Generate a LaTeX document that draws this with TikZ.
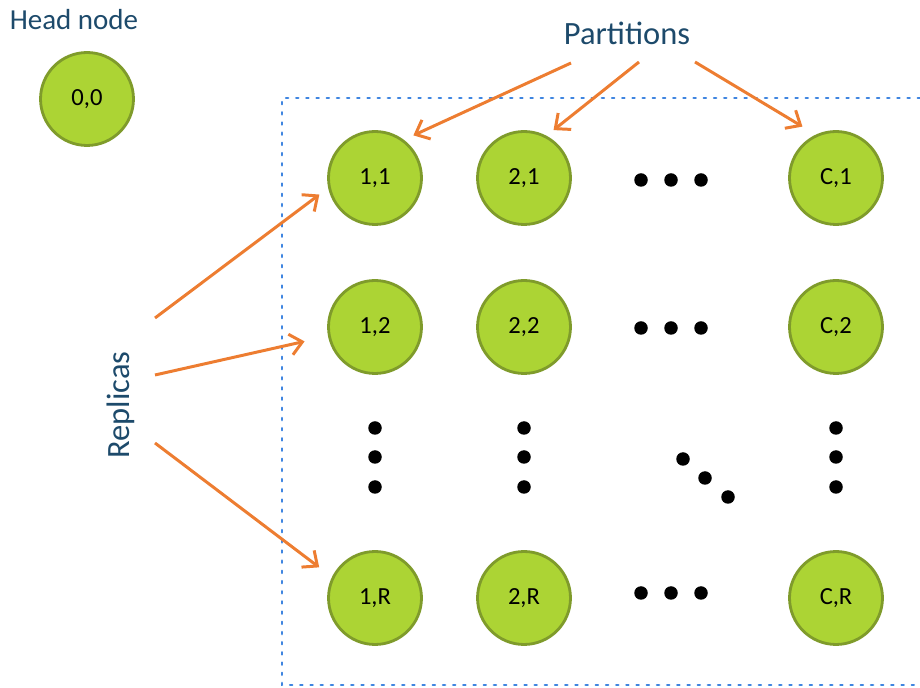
\documentclass[tikz,border=0pt]{standalone}
\usepackage{fontspec}
\setmainfont{Carlito}
\usetikzlibrary{arrows.meta}
\definecolor{cgreen}{HTML}{ACD434}
\definecolor{cedge}{HTML}{7F9B2B}
\definecolor{corange}{HTML}{ED7D31}
\definecolor{cblue}{HTML}{3F85E0}
\definecolor{cnavy}{HTML}{1D4A6B}
\tikzset{
  every picture/.style={x=0.02cm, y=-0.02cm},
  replica/.style={circle, draw=cedge, fill=cgreen, line width=1.6pt, minimum size=1.86cm, inner sep=0pt, font=\fontsize{14}{16}\selectfont},
  heading/.style={text=cnavy, inner sep=0pt},
  arrow/.style={-{Straight Barb[length=2.4mm, width=4.2mm]}, draw=corange, line width=1.7pt},
  border/.style={draw=cblue, line width=1.3pt, dash pattern=on 1.3pt off 4.5pt, line cap=round},
}

\begin{document}
\begin{tikzpicture}
  \useasboundingbox (0,0) rectangle (920,688);
  % partition area
  \draw[border] (920,98) -- (282,98) -- (282,685) -- (920,685);
  % labels
  \node[heading, font=\fontsize{16.5}{18}\selectfont] (headlbl) at (74,20) {Head node};
  \node[heading, font=\fontsize{18.5}{20}\selectfont] (partlbl) at (627,33) {Partitions};
  \node[heading, font=\fontsize{18.5}{20}\selectfont, rotate=90] (repllbl) at (121,405) {Replicas};
  % head and replicas
  \node[replica] (head) at (87,99) {0,0};
  \node[replica] (c11) at (375,178) {1,1};
  \node[replica] (c21) at (524,178) {2,1};
  \node[replica] (cC1) at (836,178) {C,1};
  \node[replica] (c12) at (375,327) {1,2};
  \node[replica] (c22) at (524,327) {2,2};
  \node[replica] (cC2) at (836,327) {C,2};
  \node[replica] (c1R) at (375,598) {1,R};
  \node[replica] (c2R) at (524,598) {2,R};
  \node[replica] (cCR) at (836,598) {C,R};
  % ellipses
  \foreach \y in {180,328,593}
    \foreach \x in {641,671,701}
      \fill (\x,\y) circle (0.135cm);
  \foreach \x in {375,524,836}
    \foreach \y in {428,457,487}
      \fill (\x,\y) circle (0.135cm);
  \fill (683,459) circle (0.135cm) (705,478) circle (0.135cm) (728,497) circle (0.135cm);
  % arrows
  \coordinate (p1) at (571,63);
  \coordinate (p2) at (639,62);
  \coordinate (p3) at (695,62);
  \coordinate (r1) at (155,318);
  \coordinate (r2) at (155,375);
  \coordinate (r3) at (155,443);
  \draw[arrow, shorten >=0.21cm] (p1) -- (c11.53);
  \draw[arrow, shorten >=0.18cm] (p2) -- (c21.62);
  \draw[arrow, shorten >=0.31cm] (p3) -- (cC1.115);
  \draw[arrow, shorten >=0.22cm] (r1) -- (c11.192);
  \draw[arrow, shorten >=0.48cm] (r2) -- (c12.191);
  \draw[arrow, shorten >=0.32cm] (r3) -- (c1R.154);
\end{tikzpicture}
\end{document}
